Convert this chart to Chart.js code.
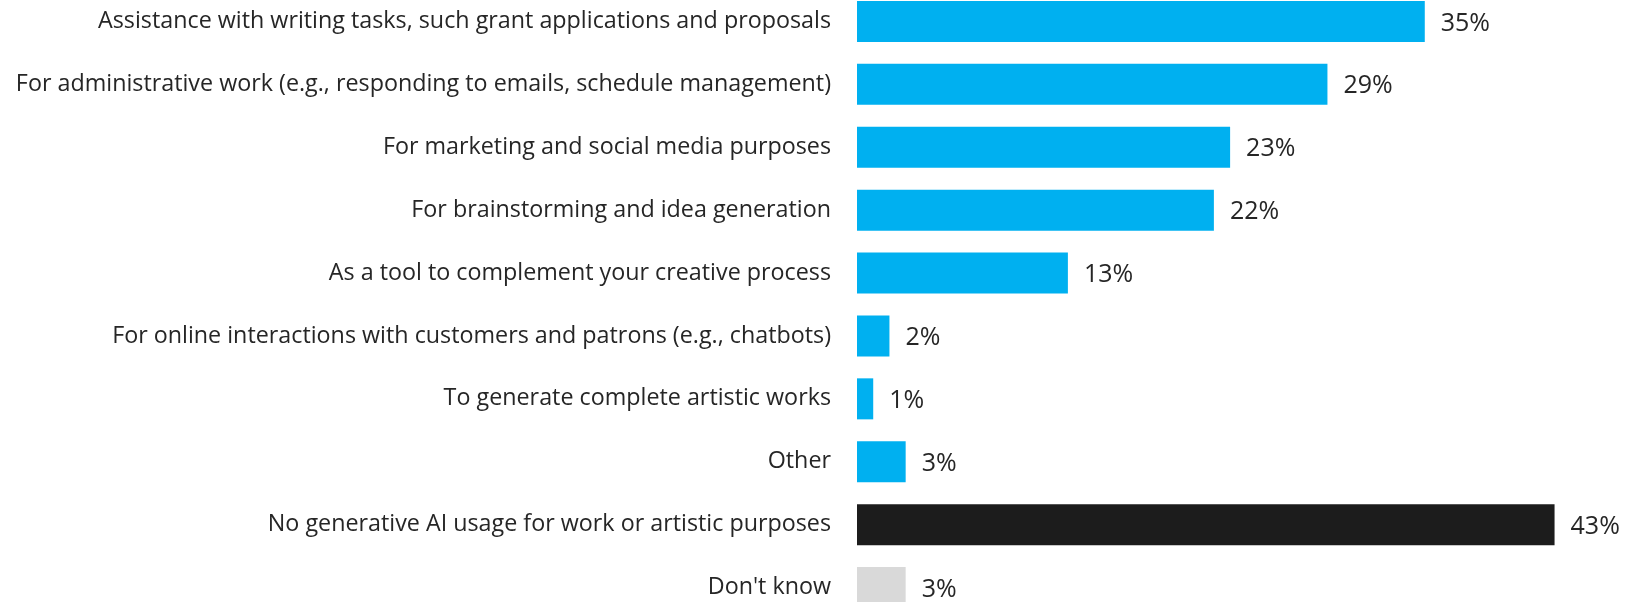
<!DOCTYPE html>
<html>
<head>
<meta charset="utf-8">
<script src="https://cdn.jsdelivr.net/npm/chart.js@4.4.1/dist/chart.umd.min.js"></script>
<style>
  html, body { margin: 0; padding: 0; background: #ffffff; overflow: hidden; }
  body { width: 1630px; height: 602px; position: relative; }
  #wrap { position: absolute; left: 0; top: -10px; width: 1630px; height: 629px; }
</style>
</head>
<body>
<div id="wrap"><canvas id="chart"></canvas></div>
<script>
// Uses of generative AI (share of respondents, %)
const categories = [
  "Assistance with writing tasks, such grant applications and proposals",
  "For administrative work (e.g., responding to emails, schedule management)",
  "For marketing and social media purposes",
  "For brainstorming and idea generation",
  "As a tool to complement your creative process",
  "For online interactions with customers and patrons (e.g., chatbots)",
  "To generate complete artistic works",
  "Other",
  "No generative AI usage for work or artistic purposes",
  "Don't know"
];
const values = [35, 29, 23, 22, 13, 2, 1, 3, 43, 3];
const valueLabels = ["35%", "29%", "23%", "22%", "13%", "2%", "1%", "3%", "43%", "3%"];

// Bar fills: blue for uses, black for "no usage", grey for "don't know"
const barColors = [
  "#00B0F0", "#00B0F0", "#00B0F0", "#00B0F0", "#00B0F0",
  "#00B0F0", "#00B0F0", "#00B0F0", "#1C1C1C", "#D9D9D9"
];

const TEXT_COLOR = "#262626";
const FONT = "'Open Sans', 'Noto Sans', sans-serif";

// Draws the percentage next to the end of each bar
const valueLabelPlugin = {
  id: "valueLabels",
  afterDatasetsDraw(chart) {
    const ctx = chart.ctx;
    const meta = chart.getDatasetMeta(0);
    ctx.save();
    ctx.font = "25px " + FONT;
    ctx.fillStyle = TEXT_COLOR;
    ctx.textAlign = "left";
    ctx.textBaseline = "middle";
    meta.data.forEach((bar, i) => {
      ctx.fillText(valueLabels[i], bar.x + 16, bar.y + 2);
    });
    ctx.restore();
  }
};

new Chart(document.getElementById("chart"), {
  type: "bar",
  data: {
    labels: categories,
    datasets: [{
      data: values,
      backgroundColor: barColors,
      borderWidth: 0,
      categoryPercentage: 1.0,
      barPercentage: 0.652
    }]
  },
  options: {
    indexAxis: "y",
    responsive: true,
    maintainAspectRatio: false,
    animation: false,
    layout: { padding: { left: 0, right: 43, top: 0, bottom: 0 } },
    plugins: {
      legend: { display: false },
      tooltip: { enabled: false }
    },
    scales: {
      x: {
        display: false,
        min: 0,
        max: 45
      },
      y: {
        afterFit(scale) {
          // fixed label column; bars fill the full height of the plot
          scale.width = 857;
          scale.paddingTop = 0;
          scale.paddingBottom = 0;
        },
        grid: { display: false, drawTicks: false },
        border: { display: false },
        ticks: {
          padding: 26,
          color: TEXT_COLOR,
          font: { family: FONT, size: 23.3 },
          autoSkip: false
        }
      }
    }
  },
  plugins: [valueLabelPlugin]
});
</script>
</body>
</html>
